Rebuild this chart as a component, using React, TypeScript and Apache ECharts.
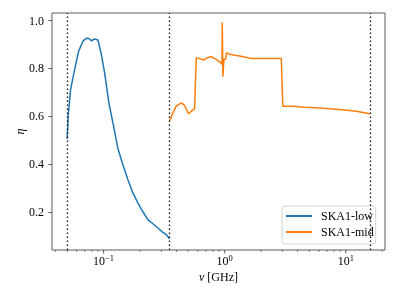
import React, { useEffect, useRef } from 'react';
import * as echarts from 'echarts';

const seriesNames = ['SKA1-low', 'SKA1-mid'];
const lowFreq = [0.05, 0.0512, 0.0534, 0.0577, 0.0622, 0.0675, 0.072, 0.0756, 0.0791, 0.0843, 0.0898, 0.0958, 0.1019, 0.1106, 0.1194, 0.1313, 0.1443, 0.1586, 0.1745, 0.1918, 0.2111, 0.2321, 0.2553, 0.2807, 0.3089, 0.3296, 0.35];
const lowEta = [0.505, 0.61, 0.712, 0.796, 0.872, 0.914, 0.926, 0.925, 0.916, 0.923, 0.919, 0.859, 0.782, 0.656, 0.572, 0.465, 0.397, 0.335, 0.279, 0.237, 0.2, 0.167, 0.15, 0.132, 0.114, 0.104, 0.087];
const midFreq = [0.35, 0.3734, 0.398, 0.4383, 0.4667, 0.5036, 0.53, 0.564, 0.5825, 0.6206, 0.6732, 0.7184, 0.775, 0.8524, 0.9249, 0.948, 0.955, 0.966, 0.985, 1.017, 1.037, 1.098, 1.207, 1.327, 1.659, 2.068, 2.931, 3.02, 3.657, 4.568, 6.075, 8.889, 12.21, 15.8];
const midEta = [0.579, 0.614, 0.642, 0.656, 0.645, 0.61, 0.621, 0.631, 0.845, 0.841, 0.835, 0.845, 0.849, 0.838, 0.824, 0.817, 0.992, 0.765, 0.838, 0.838, 0.866, 0.859, 0.855, 0.852, 0.842, 0.842, 0.842, 0.642, 0.642, 0.638, 0.634, 0.628, 0.621, 0.61];
const bandEdges = [0.05, 0.35, 15.8];
const yTicks = [0.2, 0.4, 0.6, 0.8, 1.0];
const xMajorTicks = [0.1, 1, 10];
const xMinorTicks = [0.04, 0.05, 0.06, 0.07, 0.08, 0.09, 0.2, 0.3, 0.4, 0.5, 0.6, 0.7, 0.8, 0.9, 2, 3, 4, 5, 6, 7, 8, 9, 20];

const X_MIN = 0.0375;
const X_MAX = 21.07;
const Y_MIN = 0.04;
const Y_MAX = 1.032;
const FONT = '"Liberation Serif", "DejaVu Serif", serif';

function tickSeries(values: number[], len: number, width: number) {
  return {
    type: 'custom',
    silent: true,
    clip: false,
    z: 5,
    data: values.map((v) => [v, Y_MIN]),
    renderItem: (params: any, api: any) => {
      const p = api.coord([api.value(0), Y_MIN]);
      return {
        type: 'line',
        shape: { x1: p[0], y1: p[1], x2: p[0], y2: p[1] + len },
        style: { stroke: '#333', lineWidth: width },
      };
    },
  };
}

export default function App() {
  const ref = useRef<HTMLDivElement>(null);
  useEffect(() => {
    if (!ref.current) return;
    const chart = echarts.init(ref.current, null, { renderer: 'svg' });
    chart.setOption({
      animation: false,
      grid: {
        left: 52, right: 14, top: 13, bottom: 49,
        show: true, borderColor: '#333', borderWidth: 0.8, backgroundColor: 'transparent',
      },
      legend: {
        data: seriesNames.map((n) => ({ name: n, icon: 'rect' })),
        orient: 'vertical',
        left: 282,
        top: 206,
        itemWidth: 26,
        itemHeight: 2,
        itemGap: 2,
        padding: [3, 2, 5, 4],
        backgroundColor: 'rgba(255,255,255,0.8)',
        borderColor: '#d4d4d4',
        borderWidth: 1,
        borderRadius: 3,
        textStyle: { fontFamily: FONT, fontSize: 12, lineHeight: 14, color: '#000', padding: [0, 0, 0, 4] },
      },
      xAxis: {
        type: 'log',
        logBase: 10,
        min: X_MIN,
        max: X_MAX,
        axisLine: { show: false },
        axisTick: { show: false },
        splitLine: { show: false },
        minorTick: { show: false },
        axisLabel: {
          margin: 3,
          fontFamily: FONT,
          fontSize: 12,
          lineHeight: 16,
          color: '#000',
          showMinLabel: false,
          showMaxLabel: false,
          formatter: (v: number) => {
            const e = Math.log10(v);
            const r = Math.round(e);
            if (Math.abs(e - r) > 1e-6) return '';
            return '10{s|' + (r < 0 ? '\u2212' + -r : String(r)) + '}';
          },
          rich: {
            s: { fontFamily: FONT, fontSize: 8.5, lineHeight: 8, verticalAlign: 'top', color: '#000' },
          },
        },
        name: '{i|ν} [GHz]',
        nameLocation: 'middle',
        nameGap: 21,
        nameMoveOverlap: false,
        nameTextStyle: {
          fontFamily: FONT, fontSize: 12, color: '#000', verticalAlign: 'top',
          rich: { i: { fontFamily: FONT, fontSize: 12, fontStyle: 'italic', color: '#000' } },
        },
      },
      yAxis: {
        type: 'value',
        min: Y_MIN,
        max: Y_MAX,
        axisLine: { show: false },
        splitLine: { show: false },
        axisTick: { show: true, length: 3.5, lineStyle: { color: '#333', width: 0.8 }, customValues: yTicks },
        axisLabel: {
          customValues: yTicks,
          margin: 8,
          fontFamily: FONT,
          fontSize: 12,
          color: '#000',
          formatter: (v: number) => v.toFixed(1),
        },
        name: 'η',
        nameLocation: 'middle',
        nameRotate: 90,
        nameGap: 26,
        nameMoveOverlap: false,
        nameTextStyle: { fontFamily: FONT, fontSize: 12, fontStyle: 'italic', color: '#000' },
      },
      series: [
        {
          name: seriesNames[0],
          type: 'line',
          symbol: 'none',
          data: lowFreq.map((f, i) => [f, lowEta[i]]),
          color: '#1f77b4',
          lineStyle: { color: '#1f77b4', width: 1.5 },
          z: 3,
          markLine: {
            silent: true,
            symbol: ['none', 'none'],
            label: { show: false },
            lineStyle: { type: [1.5, 2.5], color: '#111', width: 1.3 },
            data: bandEdges.map((v) => ({ xAxis: v })),
          },
        },
        {
          name: seriesNames[1],
          type: 'line',
          symbol: 'none',
          data: midFreq.map((f, i) => [f, midEta[i]]),
          color: '#ff7f0e',
          lineStyle: { color: '#ff7f0e', width: 1.5 },
          z: 3,
        },
        tickSeries(xMajorTicks, 3.5, 0.8),
        tickSeries(xMinorTicks, 2, 0.6),
      ],
    });
    return () => chart.dispose();
  }, []);
  return <div ref={ref} style={{ position: 'fixed', left: 0, top: 0, width: 399, height: 299 }} />;
}
